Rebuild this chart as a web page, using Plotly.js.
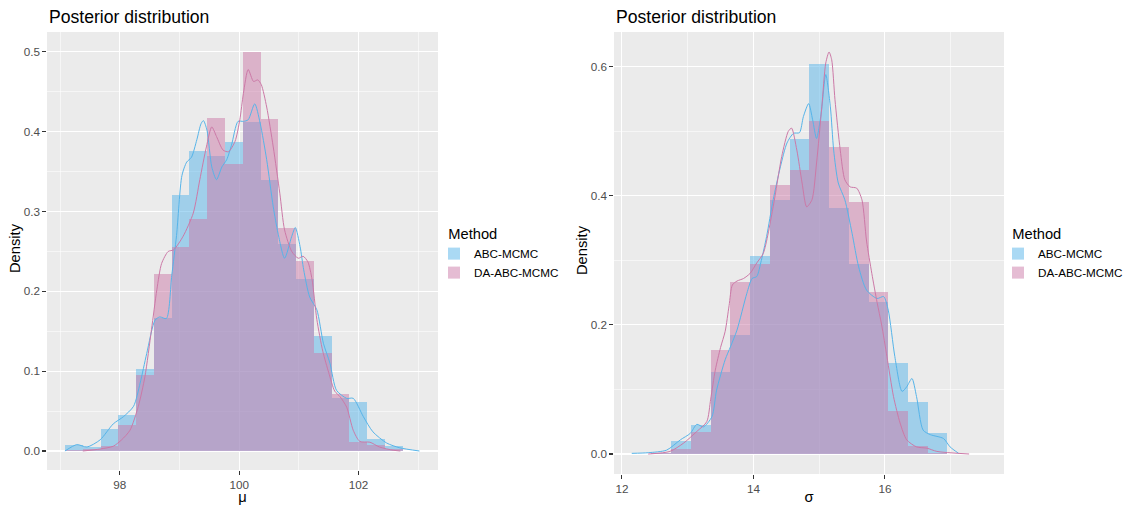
<!DOCTYPE html>
<html>
<head>
<meta charset="utf-8">
<script src="https://cdn.plot.ly/plotly-3.0.1.min.js"></script>
<style>
html,body{margin:0;padding:0;background:#fff;}
#chart{width:1127px;height:505px;}
</style>
</head>
<body>
<div id="chart"></div>
<script>
// ---------- Data ----------
const methods = ["ABC-MCMC", "DA-ABC-MCMC"];
const methodColors = ["#56B4E9", "#CC79A7"];
const methodFills = ["rgba(86,180,233,0.5)", "rgba(204,121,167,0.5)"];

// Left panel: mu
const muBinCenters = [97.2320, 97.5296, 97.8272, 98.1248, 98.4224, 98.7200, 99.0176, 99.3152, 99.6128, 99.9104,
                      100.2080, 100.5056, 100.8032, 101.1008, 101.3984, 101.6960, 101.9936, 102.2912, 102.5888];
const muBinWidth = 0.2976;
const muHistABC = [0.008, 0.005, 0.027, 0.045, 0.103, 0.167, 0.321, 0.376, 0.370, 0.387,
                   0.412, 0.340, 0.259, 0.215, 0.144, 0.067, 0.061, 0.015, 0.006];
const muHistDA  = [0.001, 0.003, 0.006, 0.032, 0.095, 0.222, 0.256, 0.291, 0.417, 0.360,
                   0.500, 0.416, 0.279, 0.238, 0.123, 0.071, 0.011, 0.007, 0.002];

const muDensABCx = [97.08, 97.28, 97.45, 97.67, 97.89, 98.06, 98.23, 98.34, 98.45, 98.59, 98.67, 98.78,
                    98.87, 98.95, 99.04, 99.12, 99.20, 99.29, 99.36, 99.40, 99.46, 99.54, 99.62, 99.71,
                    99.79, 99.87, 99.98, 100.07, 100.15, 100.26, 100.35, 100.46, 100.57, 100.65, 100.76,
                    100.88, 100.94, 101.02, 101.08, 101.18, 101.30, 101.41, 101.52, 101.63, 101.80,
                    101.91, 102.08, 102.24, 102.47, 102.69, 103.02];
const muDensABCy = [0.000, 0.008, 0.005, 0.014, 0.034, 0.043, 0.056, 0.085, 0.122, 0.164, 0.168, 0.166,
                    0.220, 0.270, 0.345, 0.362, 0.368, 0.390, 0.410, 0.414, 0.402, 0.356, 0.340, 0.356,
                    0.365, 0.383, 0.413, 0.413, 0.415, 0.435, 0.411, 0.365, 0.306, 0.273, 0.2415,
                    0.269, 0.280, 0.256, 0.227, 0.193, 0.177, 0.135, 0.110, 0.076, 0.066,
                    0.066, 0.043, 0.024, 0.010, 0.004, 0.000];
const muDensDAx = [97.38, 97.67, 97.89, 98.03, 98.17, 98.31, 98.42, 98.53, 98.62, 98.70, 98.81, 98.90,
                   99.06, 99.23, 99.34, 99.45, 99.54, 99.62, 99.73, 99.82, 99.93, 100.01, 100.07, 100.15,
                   100.24, 100.31, 100.37, 100.46, 100.57, 100.68, 100.76, 100.88, 100.99, 101.07, 101.15,
                   101.22, 101.30, 101.40, 101.50, 101.60, 101.69, 101.80, 101.91, 102.02, 102.19,
                   102.35, 102.58, 102.70];
const muDensDAy = [0.000, 0.0025, 0.006, 0.014, 0.026, 0.056, 0.093, 0.152, 0.202, 0.235, 0.250, 0.252,
                   0.269, 0.298, 0.340, 0.381, 0.406, 0.394, 0.377, 0.375, 0.388, 0.415, 0.448, 0.478,
                   0.463, 0.465, 0.459, 0.431, 0.381, 0.323, 0.277, 0.250, 0.2415, 0.244, 0.237,
                   0.215, 0.165, 0.125, 0.098, 0.075, 0.068, 0.055, 0.026, 0.012, 0.011,
                   0.005, 0.001, 0.000];

// Right panel: sigma
const sigBinCenters = [12.6, 12.9, 13.2, 13.5, 13.8, 14.1, 14.4, 14.7, 15.0, 15.3, 15.6, 15.9, 16.2, 16.5, 16.8];
const sigBinWidth = 0.3;
const sigHistABC = [0.002, 0.0196, 0.0455, 0.1266, 0.1845, 0.307, 0.394, 0.488, 0.605, 0.382, 0.295, 0.235, 0.141, 0.080, 0.032];
const sigHistDA  = [0.001, 0.0078, 0.0346, 0.161, 0.2667, 0.2946, 0.417, 0.440, 0.516, 0.476, 0.391, 0.2507, 0.066, 0.012, 0.001];

const sigDensABCx = [12.15, 12.40, 12.68, 12.89, 13.04, 13.14, 13.24, 13.37, 13.44, 13.57, 13.65, 13.75,
                     13.90, 13.98, 14.05, 14.12, 14.20, 14.30, 14.41, 14.51, 14.61, 14.70, 14.76, 14.84,
                     14.90, 14.96, 15.03, 15.10, 15.17, 15.22, 15.29, 15.39, 15.50, 15.60, 15.72, 15.88,
                     15.98, 16.05, 16.15, 16.26, 16.33, 16.41, 16.48, 16.58, 16.69, 16.89, 16.99, 17.12];
const sigDensABCy = [0.001, 0.002, 0.006, 0.022, 0.032, 0.046, 0.042, 0.058, 0.099, 0.146, 0.166, 0.192,
                     0.249, 0.272, 0.275, 0.300, 0.337, 0.394, 0.445, 0.482, 0.497, 0.498, 0.523, 0.543,
                     0.518, 0.489, 0.528, 0.588, 0.538, 0.471, 0.420, 0.394, 0.342, 0.290, 0.254, 0.241,
                     0.244, 0.223, 0.151, 0.097, 0.104, 0.117, 0.089, 0.037, 0.030, 0.024, 0.011, 0.001];
const sigDensDAx = [12.40, 12.73, 12.94, 13.14, 13.29, 13.35, 13.42, 13.50, 13.57, 13.63, 13.68, 13.75,
                    13.85, 13.95, 14.05, 14.15, 14.30, 14.43, 14.53, 14.58, 14.66, 14.74, 14.81, 14.89,
                    14.96, 15.04, 15.10, 15.15, 15.19, 15.24, 15.32, 15.39, 15.47, 15.57, 15.65, 15.72,
                    15.80, 15.88, 15.95, 16.03, 16.13, 16.23, 16.33, 16.48, 16.64, 16.79, 17.28];
const sigDensDAy = [0.000, 0.004, 0.017, 0.035, 0.050, 0.085, 0.130, 0.165, 0.190, 0.230, 0.262, 0.268,
                    0.272, 0.280, 0.296, 0.311, 0.383, 0.461, 0.500, 0.505, 0.471, 0.420, 0.383, 0.394,
                    0.451, 0.538, 0.606, 0.623, 0.611, 0.549, 0.471, 0.425, 0.414, 0.412, 0.394, 0.330,
                    0.280, 0.235, 0.200, 0.151, 0.089, 0.048, 0.022, 0.011, 0.009, 0.004, 0.000];

const muTickVals = [98, 100, 102];
const sigTickVals = [12, 14, 16];

// ---------- Traces ----------
const FONT = '"Liberation Sans", Arial, Helvetica, sans-serif';

function barTrace(x, y, w, i, xa, ya, leg) {
  return {type: 'bar', x: x, y: y, width: w, name: methods[i],
    marker: {color: methodFills[i], line: {width: 0}},
    xaxis: xa, yaxis: ya, legend: leg, hoverinfo: 'skip'};
}
function lineTrace(x, y, i, xa, ya) {
  return {type: 'scatter', mode: 'lines', x: x, y: y, name: methods[i],
    line: {color: methodColors[i], width: 1, shape: 'spline', smoothing: 0.7},
    xaxis: xa, yaxis: ya, showlegend: false, hoverinfo: 'skip'};
}

const data = [
  barTrace(muBinCenters, muHistABC, muBinWidth, 0, 'x', 'y', 'legend'),
  barTrace(muBinCenters, muHistDA, muBinWidth, 1, 'x', 'y', 'legend'),
  lineTrace(muDensABCx, muDensABCy, 0, 'x', 'y'),
  lineTrace(muDensDAx, muDensDAy, 1, 'x', 'y'),
  barTrace(sigBinCenters, sigHistABC, sigBinWidth, 0, 'x2', 'y2', 'legend2'),
  barTrace(sigBinCenters, sigHistDA, sigBinWidth, 1, 'x2', 'y2', 'legend2'),
  lineTrace(sigDensABCx, sigDensABCy, 0, 'x2', 'y2'),
  lineTrace(sigDensDAx, sigDensDAy, 1, 'x2', 'y2')
];

// ---------- Layout ----------
const W = 1127, H = 505;
function px(x) { return x / W; }
function py(y) { return 1 - y / H; }

function xAxis(domain, range, tickvals, minorDtick, title, anchor) {
  return {domain: domain, range: range, anchor: anchor,
    tickmode: 'array', tickvals: tickvals, ticktext: tickvals.map(String),
    ticks: 'outside', ticklen: 3.7, tickwidth: 1.07, tickcolor: '#333333',
    tickfont: {family: FONT, size: 11.7, color: '#4D4D4D'},
    showgrid: true, gridcolor: '#FFFFFF', gridwidth: 1.07,
    minor: {dtick: minorDtick, tick0: 0, showgrid: true, gridcolor: '#FFFFFF', gridwidth: 0.53, ticks: ''},
    zeroline: false, showline: false, fixedrange: true, automargin: false,
    title: {text: title, font: {family: FONT, size: 14.7, color: '#000000'}, standoff: 2}};
}
function yAxis(domain, range, dtick, minorDtick, anchor) {
  return {domain: domain, range: range, anchor: anchor,
    tick0: 0, dtick: dtick, tickformat: '.1f',
    ticks: 'outside', ticklen: 3.7, tickwidth: 1.07, tickcolor: '#333333',
    tickfont: {family: FONT, size: 11.7, color: '#4D4D4D'},
    showgrid: true, gridcolor: '#FFFFFF', gridwidth: 1.07,
    minor: {dtick: minorDtick, tick0: 0, showgrid: true, gridcolor: '#FFFFFF', gridwidth: 0.53, ticks: ''},
    zeroline: false, showline: false, fixedrange: true, automargin: false};
}
function legendObj(x, y) {
  return {x: x, y: y, xref: 'container', yref: 'container', xanchor: 'left', yanchor: 'top',
    bgcolor: 'rgba(0,0,0,0)', borderwidth: 0,
    title: {text: '\u00A0\u00A0\u00A0Method', side: 'top', font: {family: FONT, size: 14.7, color: '#000000'}},
    font: {family: FONT, size: 11.7, color: '#000000'},
    itemclick: false, itemdoubleclick: false, tracegroupgap: 0};
}
function textNote(text, x, y, size, extra) {
  return Object.assign({text: text, xref: 'paper', yref: 'paper', x: x, y: y,
    showarrow: false, font: {family: FONT, size: size, color: '#000000'}}, extra);
}

const layout = {
  width: W, height: H,
  margin: {l: 0, r: 0, t: 0, b: 0, autoexpand: false},
  paper_bgcolor: '#FFFFFF', plot_bgcolor: '#EBEBEB',
  font: {family: FONT},
  barmode: 'overlay', bargap: 0,
  xaxis: xAxis([px(47), px(438)], [96.78, 103.33], muTickVals, 1, 'μ', 'y'),
  yaxis: yAxis([1 - 470 / H, py(32)], [-0.0238, 0.525], 0.1, 0.05, 'x'),
  xaxis2: xAxis([px(614), px(1004)], [11.88, 17.81], sigTickVals, 1, 'σ', 'y2'),
  yaxis2: yAxis([1 - 474 / H, py(32)], [-0.031, 0.654], 0.2, 0.1, 'x2'),
  legend: legendObj(px(434), py(220)),
  legend2: legendObj(px(998), py(220)),
  annotations: [
    textNote('Posterior distribution', px(47), py(17), 17.6, {xanchor: 'left', yanchor: 'middle'}),
    textNote('Posterior distribution', px(614), py(17), 17.6, {xanchor: 'left', yanchor: 'middle'}),
    textNote('Density', px(15), py(248), 14.7, {xanchor: 'center', yanchor: 'middle', textangle: -90}),
    textNote('Density', px(582), py(250), 14.7, {xanchor: 'center', yanchor: 'middle', textangle: -90})
  ]
};

Plotly.newPlot('chart', data, layout, {staticPlot: true, displayModeBar: false});
</script>
</body>
</html>
